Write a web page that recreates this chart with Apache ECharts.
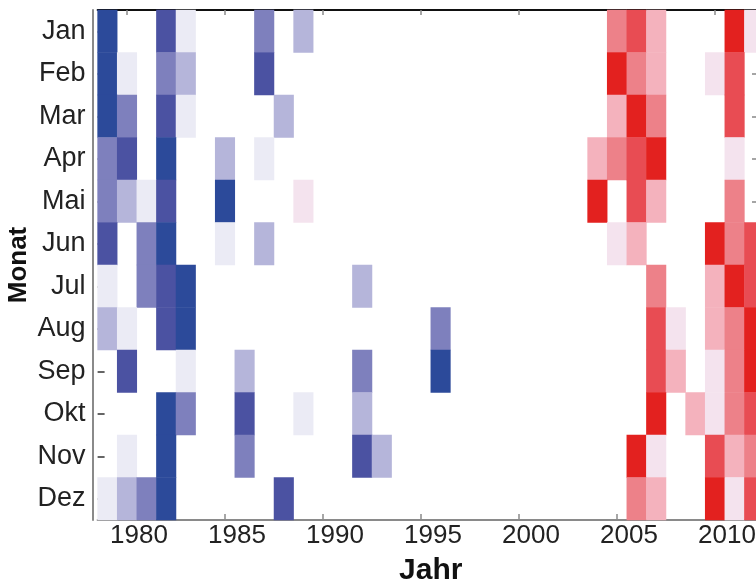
<!DOCTYPE html>
<html>
<head>
<meta charset="utf-8">
<script src="https://cdn.jsdelivr.net/npm/echarts@6/dist/echarts.min.js"></script>
<style>
html,body{margin:0;padding:0;background:#fff;}
#chart{width:756px;height:585px;}
</style>
</head>
<body>
<div id="chart"></div>
<script>
// Categories
const years = ['1979','1980','1981','1982','1983','1984','1985','1986','1987','1988',
  '1989','1990','1991','1992','1993','1994','1995','1996','1997','1998',
  '1999','2000','2001','2002','2003','2004','2005','2006','2007','2008',
  '2009','2010','2011','2012'];
const months = ['Jan','Feb','Mar','Apr','Mai','Jun','Jul','Aug','Sep','Okt','Nov','Dez'];
const tickYears = ['1980','1985','1990','1995','2000','2005','2010'];

// Anomaly level per year (1979..2012), negative = blue, positive = red, 0 = none
//            79 80 81 82 83 84 85 86 87 88 89 90 91 92 93 94 95 96 97 98 99 00 01 02 03 04 05 06 07 08 09 10 11 12
const jan = [-5, 0, 0,-4,-1, 0, 0, 0,-3, 0,-2, 0, 0, 0, 0, 0, 0, 0, 0, 0, 0, 0, 0, 0, 0, 0, 3, 4, 2, 0, 0, 0, 5, 1];
const feb = [-5,-1, 0,-3,-2, 0, 0, 0,-4, 0, 0, 0, 0, 0, 0, 0, 0, 0, 0, 0, 0, 0, 0, 0, 0, 0, 5, 3, 2, 0, 0, 1, 4, 0];
const mar = [-5,-3, 0,-4,-1, 0, 0, 0, 0,-2, 0, 0, 0, 0, 0, 0, 0, 0, 0, 0, 0, 0, 0, 0, 0, 0, 2, 5, 3, 0, 0, 0, 4, 0];
const apr = [-3,-4, 0,-5, 0, 0,-2, 0,-1, 0, 0, 0, 0, 0, 0, 0, 0, 0, 0, 0, 0, 0, 0, 0, 0, 2, 3, 4, 5, 0, 0, 0, 1, 0];
const mai = [-3,-2,-1,-4, 0, 0,-5, 0, 0, 0, 1, 0, 0, 0, 0, 0, 0, 0, 0, 0, 0, 0, 0, 0, 0, 5, 0, 4, 2, 0, 0, 0, 3, 0];
const jun = [-4, 0,-3,-5, 0, 0,-1, 0,-2, 0, 0, 0, 0, 0, 0, 0, 0, 0, 0, 0, 0, 0, 0, 0, 0, 0, 1, 2, 0, 0, 0, 5, 3, 4];
const jul = [-1, 0,-3,-4,-5, 0, 0, 0, 0, 0, 0, 0, 0,-2, 0, 0, 0, 0, 0, 0, 0, 0, 0, 0, 0, 0, 0, 0, 3, 0, 0, 2, 5, 4];
const aug = [-2,-1, 0,-4,-5, 0, 0, 0, 0, 0, 0, 0, 0, 0, 0, 0, 0,-3, 0, 0, 0, 0, 0, 0, 0, 0, 0, 0, 4, 1, 0, 2, 3, 5];
const sep = [ 0,-4, 0, 0,-1, 0, 0,-2, 0, 0, 0, 0, 0,-3, 0, 0, 0,-5, 0, 0, 0, 0, 0, 0, 0, 0, 0, 0, 4, 2, 0, 1, 3, 5];
const okt = [ 0, 0, 0,-5,-3, 0, 0,-4, 0, 0,-1, 0, 0,-2, 0, 0, 0, 0, 0, 0, 0, 0, 0, 0, 0, 0, 0, 0, 5, 0, 2, 1, 3, 4];
const nov = [ 0,-1, 0,-5, 0, 0, 0,-3, 0, 0, 0, 0, 0,-4,-2, 0, 0, 0, 0, 0, 0, 0, 0, 0, 0, 0, 0, 5, 1, 0, 0, 4, 2, 3];
const dez = [-1,-2,-3,-5, 0, 0, 0, 0, 0,-4, 0, 0, 0, 0, 0, 0, 0, 0, 0, 0, 0, 0, 0, 0, 0, 0, 0, 3, 2, 0, 0, 5, 1, 4];

const levels = [-5,-4,-3,-2,-1,1,2,3,4,5];
const levelColors = ['#2c4a9a','#4b52a2','#7e80bd','#b5b5da','#ebebf5',
                     '#f4e3ee','#f4b2bd','#ed8189','#e84c53','#e3211f'];

const rows = [jan,feb,mar,apr,mai,jun,jul,aug,sep,okt,nov,dez];
const data = [];
rows.forEach(function (row, m) {
  row.forEach(function (v, i) {
    if (v !== 0) data.push([i, m, v]);
  });
});

const FONT = '"Liberation Sans", Arial, Helvetica, sans-serif';
const isTick = function (idx, val) { return tickYears.indexOf(val) >= 0; };

const chart = echarts.init(document.getElementById('chart'), null, {renderer: 'canvas'});
chart.setOption({
  backgroundColor: '#ffffff',
  animation: false,
  grid: {left: 97.6, top: 10, width: 666.4, height: 510, containLabel: false, outerBoundsMode: 'none'},
  xAxis: [{
    type: 'category', data: years, position: 'bottom',
    name: 'Jahr', nameLocation: 'middle', nameGap: 36, nameMoveOverlap: false,
    nameTextStyle: {fontFamily: FONT, fontSize: 30, fontWeight: 'bold', color: '#111'},
    axisLine: {show: true, lineStyle: {color: '#8a8a8a', width: 2}},
    axisTick: {show: true, inside: true, length: 6, alignWithLabel: true, interval: isTick,
               lineStyle: {color: '#8a8a8a', width: 1.5}},
    axisLabel: {show: true, interval: isTick, fontFamily: FONT, fontSize: 26, color: '#222',
                margin: 3, padding: [0, 0, 0, 24]},
    splitLine: {show: false}
  }, {
    type: 'category', data: years, position: 'top',
    axisLine: {show: true, lineStyle: {color: '#111', width: 2}},
    axisTick: {show: true, inside: true, length: 5, alignWithLabel: true, interval: isTick,
               lineStyle: {color: '#8a8a8a', width: 1.5}},
    axisLabel: {show: false},
    splitLine: {show: false}
  }],
  yAxis: [{
    type: 'category', data: months, inverse: true, position: 'left', offset: 5,
    name: 'Monat', nameLocation: 'middle', nameGap: 61, nameRotate: 90, nameMoveOverlap: false,
    nameTextStyle: {fontFamily: FONT, fontSize: 26, fontWeight: 'bold', color: '#111'},
    axisLine: {show: true, lineStyle: {color: '#8a8a8a', width: 2}},
    axisTick: {show: false},
    axisLabel: {fontFamily: FONT, fontSize: 27, color: '#222', margin: 7},
    splitLine: {show: false}
  }, {
    type: 'category', data: months, inverse: true, position: 'left', offset: 0,
    axisLine: {show: false},
    axisTick: {show: true, inside: true, length: 7, alignWithLabel: true,
               lineStyle: {color: '#333', width: 1.5}},
    axisLabel: {show: false},
    splitLine: {show: false}
  }, {
    type: 'category', data: months, inverse: true, position: 'right', offset: 0,
    axisLine: {show: false},
    axisTick: {show: true, inside: true, length: 12, alignWithLabel: true,
               lineStyle: {color: '#888', width: 1.5}},
    axisLabel: {show: false},
    splitLine: {show: false}
  }],
  visualMap: {
    type: 'piecewise', show: false, dimension: 2, seriesIndex: 0,
    pieces: levels.map(function (l, k) { return {value: l, color: levelColors[k]}; })
  },
  series: [{
    type: 'heatmap', xAxisIndex: 0, yAxisIndex: 0, data: data,
    itemStyle: {borderWidth: 0},
    emphasis: {disabled: true},
    label: {show: false}
  }]
});
</script>
</body>
</html>
